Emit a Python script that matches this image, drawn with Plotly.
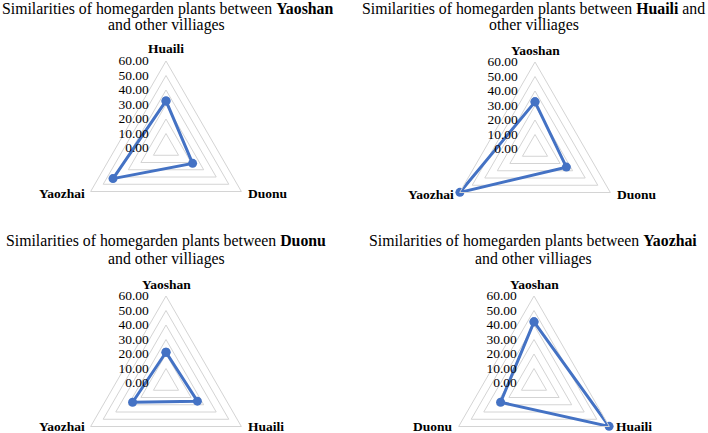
import plotly.graph_objects as go

# ---- data ----
focal_villages = ["Yaoshan", "Huaili", "Duonu", "Yaozhai"]
cats_yaoshan = ["Huaili", "Duonu", "Yaozhai"]
vals_yaoshan = [32.5, 21.2, 42.2]
cats_huaili = ["Yaoshan", "Duonu", "Yaozhai"]
vals_huaili = [32.5, 25.0, 59.8]
cats_duonu = ["Yaoshan", "Huaili", "Yaozhai"]
vals_duonu = [21.2, 25.0, 26.6]
cats_yaozhai = ["Yaoshan", "Huaili", "Duonu"]
vals_yaozhai = [42.2, 59.8, 26.6]
tick_vals = [0, 10, 20, 30, 40, 50, 60]

W, H = 708, 470
R = 87
centers = [(166, 148), (535, 149), (166, 383), (534, 383)]
label_dy = [1.5, 1.5, -0.5, -0.5]
title_pos = [((167, 8.5), (166, 25)), ((533, 8.5), (534, 25)),
             ((166, 241), (166, 259)), ((533, 241), (533, 259))]
title_lines = [
    ("Similarities of homegarden plants between <b>Yaoshan</b>", "and other villiages"),
    ("Similarities of homegarden plants between <b>Huaili</b> and", "other villiages"),
    ("Similarities of homegarden plants between <b>Duonu</b>", "and other villiages"),
    ("Similarities of homegarden plants between <b>Yaozhai</b>", "and other villiages"),
]

FONT = "Liberation Serif, Times New Roman, serif"
BLUE = "#4472C4"
GRID = "#d4d4d4"

fig = go.Figure()
series = [(cats_yaoshan, vals_yaoshan), (cats_huaili, vals_huaili),
          (cats_duonu, vals_duonu), (cats_yaozhai, vals_yaozhai)]

layout = {}
annotations = []
for i, (cats, vals) in enumerate(series):
    key = "polar" if i == 0 else f"polar{i+1}"
    fig.add_trace(go.Scatterpolar(
        r=vals + vals[:1], theta=cats + cats[:1],
        mode="lines+markers", subplot=key,
        line=dict(color=BLUE, width=3),
        marker=dict(color=BLUE, size=9),
        showlegend=False, hoverinfo="skip"))
    cx, cy = centers[i]
    layout[key] = dict(
        domain=dict(x=[(cx - R) / W, (cx + R) / W],
                    y=[(H - (cy + R)) / H, (H - (cy - R)) / H]),
        gridshape="linear",
        bgcolor="white",
        angularaxis=dict(rotation=90, direction="clockwise",
                         categoryarray=cats, categoryorder="array",
                         showgrid=False, showline=True, linecolor=GRID, linewidth=1,
                         ticks="", showticklabels=False),
        radialaxis=dict(range=[0, 60], tickvals=tick_vals, tickformat=".2f",
                        angle=90, side="counterclockwise", tickangle=90,
                        showline=False, showgrid=True, gridcolor=GRID, gridwidth=1,
                        ticks="outside", ticklen=12, tickcolor="rgba(0,0,0,0)",
                        tickfont=dict(family=FONT, size=13.5, color="black")),
    )
    # category labels at the three vertices
    lab = dict(xref="paper", yref="paper", showarrow=False, yanchor="middle",
               font=dict(family=FONT, size=13.5, color="black"))
    by = 1 - (cy + R / 2 + label_dy[i]) / H
    annotations.append(dict(lab, x=cx / W, y=1 - (cy - R - 12) / H,
                            text=f"<b>{cats[0]}</b>", xanchor="center"))
    annotations.append(dict(lab, x=(cx + 0.866 * R + 5) / W, y=by,
                            text=f"<b>{cats[1]}</b>", xanchor="left"))
    annotations.append(dict(lab, x=(cx - 0.866 * R - 4) / W, y=by,
                            text=f"<b>{cats[2]}</b>", xanchor="right"))

for (p1, p2), (t1, t2) in zip(title_pos, title_lines):
    for (x, y), t in ((p1, t1), (p2, t2)):
        annotations.append(dict(x=x / W, y=1 - y / H, xref="paper", yref="paper",
                                text=t, showarrow=False, xanchor="center", yanchor="middle",
                                borderpad=0,
                                font=dict(family=FONT, size=15.8, color="black")))

fig.update_layout(width=W, height=H, margin=dict(l=0, r=0, t=0, b=0),
                  paper_bgcolor="white", plot_bgcolor="white",
                  annotations=annotations, **layout)
fig.write_html("out.html", config={"displayModeBar": False},
               post_script="document.body.style.margin='0';document.body.style.overflow='hidden';")
